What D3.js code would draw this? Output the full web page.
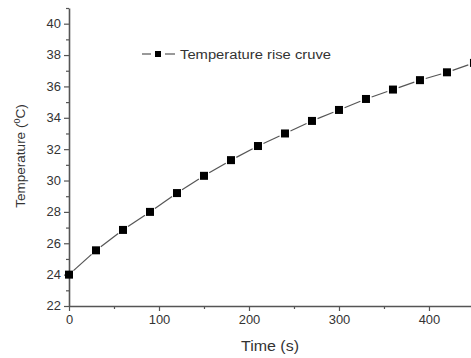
<!DOCTYPE html>
<html>
<head>
<meta charset="utf-8">
<script src="https://cdn.jsdelivr.net/npm/d3@7"></script>
<style>
  body { margin: 0; background: #fff; }
  svg { display: block; font-family: "Liberation Sans", Arial, sans-serif; }
</style>
</head>
<body>
<script>
// data
const times = [0, 30, 60, 90, 120, 150, 180, 210, 240, 270, 300, 330, 360, 390, 420, 450];
const temps = [24.0, 25.55, 26.85, 28.0, 29.2, 30.3, 31.3, 32.2, 33.0, 33.8, 34.5, 35.2, 35.8, 36.4, 36.9, 37.5];
const xTicks = [0, 100, 200, 300, 400];
const yTicks = [22, 24, 26, 28, 30, 32, 34, 36, 38, 40];
const seriesName = 'Temperature rise cruve';

const width = 471, height = 358;
const margin = { top: 8, right: 0, bottom: 52, left: 69 };

const svg = d3.select('body').append('svg')
  .attr('width', width)
  .attr('height', height);

const x = d3.scaleLinear().domain([0, 446.7]).range([margin.left, width - margin.right]);
const y = d3.scaleLinear().domain([22, 41]).range([height - margin.bottom, margin.top]);

const axisColor = '#555';
const textColor = '#333';

// minor ticks
svg.append('g')
  .attr('transform', `translate(0,${y(22)})`)
  .call(d3.axisBottom(x).tickValues(d3.range(50, 450, 100)).tickSize(3).tickFormat(''))
  .call(g => g.select('.domain').remove())
  .call(g => g.selectAll('line').attr('stroke', axisColor).attr('stroke-width', 1.2));

svg.append('g')
  .attr('transform', `translate(${x(0)},0)`)
  .call(d3.axisLeft(y).tickValues(d3.range(23, 42, 2)).tickSize(3).tickFormat(''))
  .call(g => g.select('.domain').remove())
  .call(g => g.selectAll('line').attr('stroke', axisColor).attr('stroke-width', 1.2));

// major axes
const xAxis = svg.append('g')
  .attr('transform', `translate(0,${y(22)})`)
  .call(d3.axisBottom(x).tickValues(xTicks).tickSize(5).tickPadding(4).tickSizeOuter(0));

const yAxis = svg.append('g')
  .attr('transform', `translate(${x(0)},0)`)
  .call(d3.axisLeft(y).tickValues(yTicks).tickSize(5).tickPadding(3).tickSizeOuter(0));

[xAxis, yAxis].forEach(g => {
  g.select('.domain').attr('stroke', axisColor).attr('stroke-width', 1.6);
  g.selectAll('line').attr('stroke', axisColor).attr('stroke-width', 1.2);
  g.selectAll('text').attr('fill', textColor).attr('font-size', 12)
    .attr('font-family', '"Liberation Sans", Arial, sans-serif')
    .attr('textLength', d => String(d).length * 7.2)
    .attr('lengthAdjust', 'spacingAndGlyphs');
});

// axis titles
svg.append('text')
  .attr('x', (x(0) + width) / 2)
  .attr('y', 351)
  .attr('text-anchor', 'middle')
  .attr('font-size', 14)
  .attr('fill', textColor)
  .attr('textLength', 58)
  .attr('lengthAdjust', 'spacingAndGlyphs')
  .text('Time (s)');

const yl = svg.append('text')
  .attr('transform', `translate(25,${156}) rotate(-90)`)
  .attr('text-anchor', 'middle')
  .attr('font-size', 13.5)
  .attr('fill', textColor);
yl.append('tspan').text('Temperature (');
yl.append('tspan').attr('font-size', 9).attr('dy', -5).text('0');
yl.append('tspan').attr('dy', 5).text('C)');

// series: line segments stop short of the markers
const pts = times.map((t, i) => [x(t), y(temps[i])]);
const ms = 8;
const gap = ms / 2 + 2;
const segs = d3.pairs(pts).map(([a, b]) => {
  const dx = b[0] - a[0], dy = b[1] - a[1];
  const len = Math.hypot(dx, dy);
  const ux = dx / len, uy = dy / len;
  return [a[0] + ux * gap, a[1] + uy * gap, b[0] - ux * gap, b[1] - uy * gap];
});

svg.selectAll('.seg')
  .data(segs)
  .enter()
  .append('line')
  .attr('x1', d => d[0]).attr('y1', d => d[1])
  .attr('x2', d => d[2]).attr('y2', d => d[3])
  .attr('stroke', '#555')
  .attr('stroke-width', 1.2);

svg.selectAll('.pt')
  .data(pts)
  .enter()
  .append('rect')
  .attr('x', d => d[0] - ms / 2)
  .attr('y', d => d[1] - ms / 2)
  .attr('width', ms)
  .attr('height', ms)
  .attr('fill', '#000');

// legend
const lg = svg.append('g').attr('transform', 'translate(142,54)');
lg.append('line').attr('x1', 0).attr('x2', 9).attr('y1', 0).attr('y2', 0)
  .attr('stroke', '#555').attr('stroke-width', 1.2);
lg.append('line').attr('x1', 23).attr('x2', 33).attr('y1', 0).attr('y2', 0)
  .attr('stroke', '#555').attr('stroke-width', 1.2);
lg.append('rect').attr('x', 13).attr('y', -3).attr('width', 6).attr('height', 6).attr('fill', '#000');
lg.append('text').attr('x', 38).attr('y', 4.5)
  .attr('font-size', 12.5).attr('fill', textColor)
  .attr('textLength', 151)
  .attr('lengthAdjust', 'spacingAndGlyphs')
  .text(seriesName);
</script>
</body>
</html>
